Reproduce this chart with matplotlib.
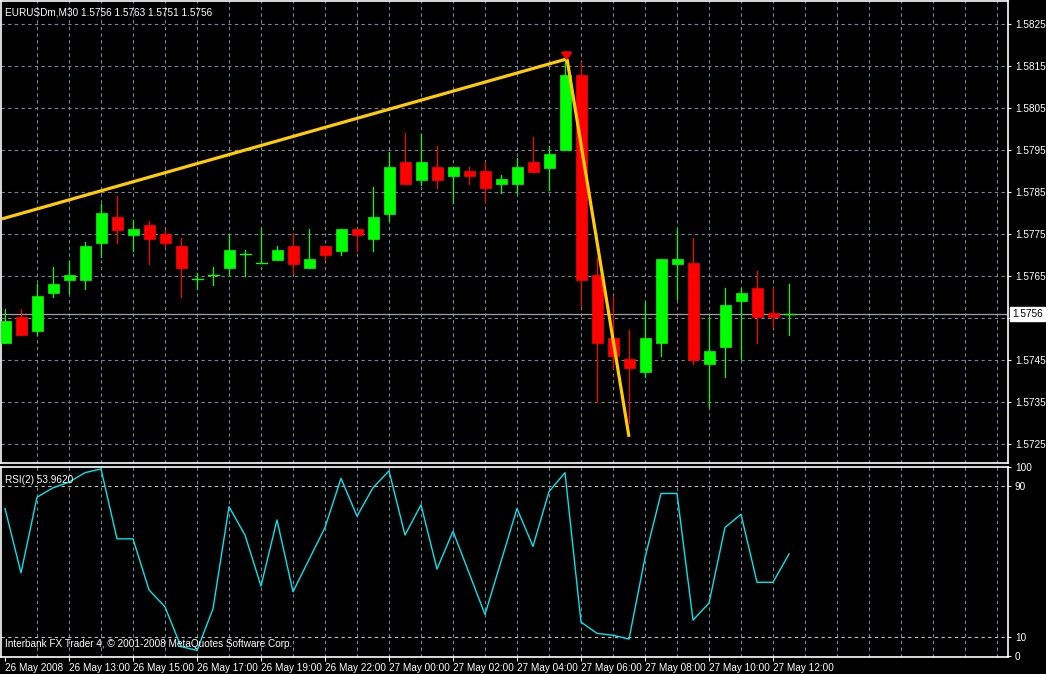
import matplotlib
matplotlib.use("Agg")
import matplotlib.pyplot as plt
from matplotlib.patches import Rectangle

plt.rcParams['font.family'] = ['Liberation Sans', 'DejaVu Sans']

title = "EURUSDm,M30 1.5756 1.5763 1.5751 1.5756"
opens  = [1.5749,1.57552,1.57519,1.5761,1.5764,1.5764,1.57729,1.5779,1.57748,1.57771,
          1.5775,1.57721,1.57643,1.57652,1.57669,1.57702,1.57681,1.57688,1.57721,1.57669,
          1.57721,1.5771,1.57762,1.57738,1.57798,1.57921,1.57879,1.5791,1.57888,1.579,
          1.579,1.57869,1.57869,1.57921,1.57907,1.5795,1.58129,1.57652,1.57502,1.57452,
          1.57421,1.5749,1.57679,1.57681,1.5744,1.57481,1.5759,1.57621,1.57562,1.5756]
closes = [1.57543,1.5751,1.57602,1.57631,1.57652,1.57721,1.578,1.5776,1.57762,1.57738,
          1.57729,1.57669,1.57643,1.57652,1.57712,1.57702,1.57681,1.57712,1.57679,1.5769,
          1.577,1.57762,1.57748,1.5779,1.5791,1.57869,1.57921,1.57879,1.5791,1.57888,
          1.5786,1.57881,1.5791,1.57898,1.5794,1.58129,1.5764,1.5749,1.5746,1.57431,
          1.57502,1.5769,1.5769,1.5745,1.57471,1.57581,1.5761,1.57552,1.57552,1.5756]
highs  = [1.57571,1.57571,1.57631,1.57671,1.57686,1.57731,1.57821,1.5784,1.57783,1.57781,
          1.5776,1.5774,1.57657,1.57671,1.5775,1.57712,1.57762,1.57721,1.5775,1.57762,
          1.57721,1.57762,1.57762,1.57862,1.57945,1.5799,1.57988,1.5796,1.5791,1.5791,
          1.57921,1.5789,1.57931,1.57981,1.5796,1.5817,1.5816,1.57693,1.57602,1.57521,
          1.57588,1.5769,1.57762,1.5774,1.57552,1.57621,1.57621,1.57662,1.57621,1.57631]
lows   = [1.5749,1.5751,1.5751,1.576,1.5761,1.57619,1.57695,1.57729,1.5771,1.57679,
          1.57719,1.576,1.57619,1.57629,1.57652,1.5765,1.5768,1.57688,1.57657,1.57669,
          1.57688,1.577,1.5771,1.5771,1.57781,1.57869,1.57867,1.5786,1.57824,1.57869,
          1.57826,1.57848,1.57848,1.57898,1.57855,1.5795,1.57579,1.5735,1.57431,1.573,
          1.5741,1.5746,1.57595,1.5744,1.57338,1.5741,1.57452,1.5749,1.57529,1.5751]
rsi = [78,44,84,89,92,97,99,62,62,35,26,5,3,25,79,64,37,72,34,51,68,94,74,89,98,
       64,80,46,66,44,22,50,78,58,87,97,18,12,11,9,52,86,86,19,28,68,75,39,39,53.962]
time_labels = ["26 May 2008","26 May 13:00","26 May 15:00","26 May 17:00","26 May 19:00",
               "26 May 22:00","27 May 00:00","27 May 02:00","27 May 04:00","27 May 06:00",
               "27 May 08:00","27 May 10:00","27 May 12:00"]
price_ticks = [1.5825,1.5815,1.5805,1.5795,1.5785,1.5775,1.5765,1.5755,1.5745,1.5735,1.5725]
bid = 1.5756
trend1 = ([-0.1875, 35.125], [1.57786, 1.58167])
trend2 = ([35.125, 39.0], [1.58167, 1.57267])

W, H = 1046, 674
fig = plt.figure(figsize=(W/100, H/100), dpi=100, facecolor="black")
FS = 7.2
GRID = "#778899"

def px_axes(l, t, r, b):
    return fig.add_axes([l/W, 1-b/H, (r-l)/W, (b-t)/H], facecolor="black")

ax = px_axes(1, 1, 1008, 463)
ax2 = px_axes(1, 467, 1008, 657)

xlim = (-4/16, 1003/16)
for a in (ax, ax2):
    a.set_xlim(*xlim)
    for s in a.spines.values():
        s.set_color("white"); s.set_linewidth(1.2)
    for k in range(2, 63, 2):
        a.axvline(k, color=GRID, lw=0.8, ls=(0, (3, 3)), zorder=0)

ax.set_ylim(1.5825 - 439/42000, 1.5825 + 23/42000)
for p in price_ticks:
    ax.axhline(p, color=GRID, lw=0.8, ls=(0, (3, 3)), zorder=0)
ax.yaxis.tick_right()
ax.set_yticks(price_ticks)
ax.set_yticklabels([f"{p:.4f}" for p in price_ticks])
ax.tick_params(axis="y", colors="white", labelsize=FS, length=2, pad=3)
ax.set_xticks([])

bw = 11/16
for i, (o, c, h, l) in enumerate(zip(opens, closes, highs, lows)):
    col = "#00ff00" if c >= o else "#ff0000"
    ax.plot([i, i], [l, h], color=col, lw=0.9, zorder=2)
    bot, top = min(o, c), max(o, c)
    if top - bot < 0.00002:
        ax.plot([i - bw/2, i + bw/2], [o, o], color=col, lw=1, zorder=3)
    else:
        ax.add_patch(Rectangle((i - bw/2, bot), bw, top - bot, facecolor=col, edgecolor=col, lw=0.5, zorder=3))

ax.axhline(bid, color="#a0a0a0", lw=0.9, zorder=1)
ax.text(1.004, bid, f"{bid:.4f}", transform=ax.get_yaxis_transform(), color="black", fontsize=FS,
        va="center", ha="left", bbox=dict(facecolor="white", edgecolor="white", pad=1.6), clip_on=False, zorder=10)

ax.plot(*trend1, color="#ffcc00", lw=2.3, zorder=4, solid_capstyle="butt")
ax.plot(*trend2, color="#ffcc00", lw=2.3, zorder=4, solid_capstyle="butt")
ax.annotate("", xy=(35.1, 1.5825 - 39/42000), xytext=(35.1, 1.5825 - 26/42000),
            arrowprops=dict(arrowstyle="-|>,head_width=0.3,head_length=0.4", color="red", lw=1.8), zorder=6)
ax.text(0.004, 0.985, title, transform=ax.transAxes, color="white", fontsize=FS, va="top", ha="left")

ax2.set_ylim(-0.5, 99.5)
for lv in (90, 10):
    ax2.axhline(lv, color="#c0c0c0", lw=0.8, ls=(0, (3, 3)), zorder=0)
ax2.plot(range(len(rsi)), rsi, color="#00e5ee", lw=1.0, zorder=3)
ax2.yaxis.tick_right()
ax2.set_yticks([100, 90, 10, 0])
ax2.set_yticklabels(["100", "90", "10", "0"])
ax2.tick_params(axis="y", colors="white", labelsize=FS, length=2, pad=3)
ax2.set_xticks(range(0, 49, 4))
ax2.set_xticklabels(time_labels, ha="left")
ax2.tick_params(axis="x", colors="white", labelsize=FS, length=3, pad=1)
ax2.text(0.004, 0.96, f"RSI(2) {rsi[-1]:.4f}", transform=ax2.transAxes, color="white", fontsize=FS, va="top")
ax2.text(0.004, 0.04, "Interbank FX Trader 4, © 2001-2008 MetaQuotes Software Corp.",
         transform=ax2.transAxes, color="white", fontsize=FS, va="bottom")

fig.savefig("out.png", dpi=100, facecolor="black")
